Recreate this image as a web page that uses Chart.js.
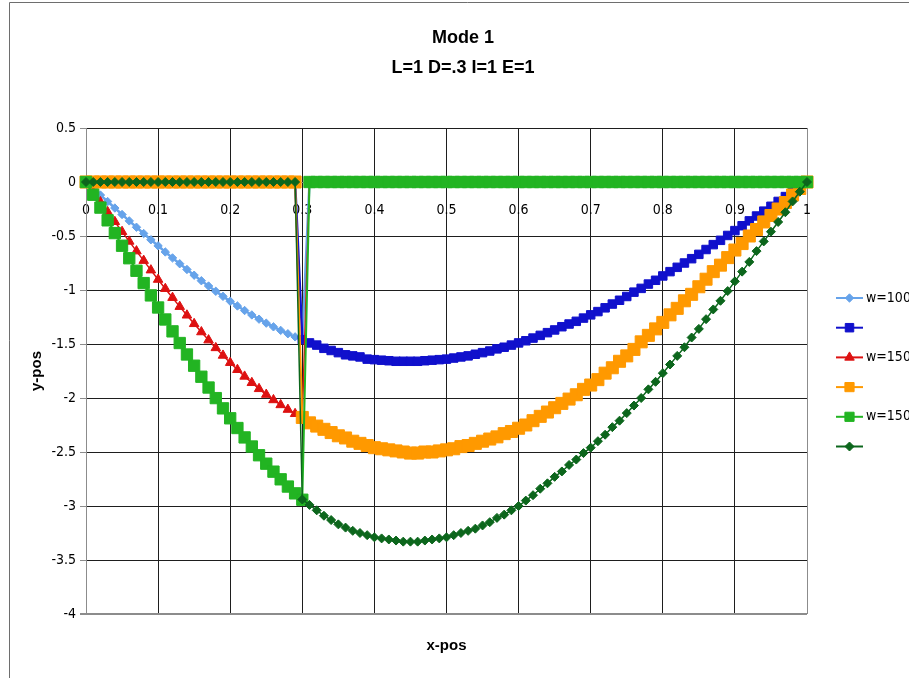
<!DOCTYPE html>
<html>
<head>
<meta charset="utf-8">
<title>Mode 1</title>
<script src="https://cdn.jsdelivr.net/npm/chart.js@4.4.1/dist/chart.umd.min.js"></script>
<style>
    html, body { margin: 0; padding: 0; overflow: hidden; background: #fff; }
    canvas { display: block; }
</style>
</head>
<body>
<canvas id="chart" width="926" height="678"></canvas>
<script>
    /*
        ----------> DATA <----------
    */

    const xPos = [
        0, 0.01, 0.02, 0.03, 0.04, 0.05, 0.06, 0.07, 0.08, 0.09,
        0.1, 0.11, 0.12, 0.13, 0.14, 0.15, 0.16, 0.17, 0.18, 0.19,
        0.2, 0.21, 0.22, 0.23, 0.24, 0.25, 0.26, 0.27, 0.28, 0.29,
        0.3, 0.31, 0.32, 0.33, 0.34, 0.35, 0.36, 0.37, 0.38, 0.39,
        0.4, 0.41, 0.42, 0.43, 0.44, 0.45, 0.46, 0.47, 0.48, 0.49,
        0.5, 0.51, 0.52, 0.53, 0.54, 0.55, 0.56, 0.57, 0.58, 0.59,
        0.6, 0.61, 0.62, 0.63, 0.64, 0.65, 0.66, 0.67, 0.68, 0.69,
        0.7, 0.71, 0.72, 0.73, 0.74, 0.75, 0.76, 0.77, 0.78, 0.79,
        0.8, 0.81, 0.82, 0.83, 0.84, 0.85, 0.86, 0.87, 0.88, 0.89,
        0.9, 0.91, 0.92, 0.93, 0.94, 0.95, 0.96, 0.97, 0.98, 0.99,
        1
    ];

    // w=100, left part (light blue)
    const w100Left = [
        0, -0.060, -0.121, -0.181, -0.241, -0.301, -0.360, -0.419, -0.477, -0.535,
        -0.591, -0.648, -0.703, -0.757, -0.810, -0.863, -0.914, -0.963, -1.012, -1.059,
        -1.104, -1.148, -1.190, -1.231, -1.270, -1.307, -1.341, -1.374, -1.405, -1.434,
        -1.460, 0, 0, 0, 0, 0, 0, 0, 0, 0,
        0, 0, 0, 0, 0, 0, 0, 0, 0, 0,
        0, 0, 0, 0, 0, 0, 0, 0, 0, 0,
        0, 0, 0, 0, 0, 0, 0, 0, 0, 0,
        0, 0, 0, 0, 0, 0, 0, 0, 0, 0,
        0, 0, 0, 0, 0, 0, 0, 0, 0, 0,
        0, 0, 0, 0, 0, 0, 0, 0, 0, 0,
        0
    ];

    // w=100, right part (dark blue)
    const w100Right = [
        0, 0, 0, 0, 0, 0, 0, 0, 0, 0,
        0, 0, 0, 0, 0, 0, 0, 0, 0, 0,
        0, 0, 0, 0, 0, 0, 0, 0, 0, 0,
        -1.46, -1.49, -1.51, -1.54, -1.56, -1.58, -1.60, -1.61, -1.62, -1.64,
        -1.645, -1.65, -1.655, -1.66, -1.66, -1.66, -1.66, -1.655, -1.65, -1.645,
        -1.64, -1.63, -1.62, -1.61, -1.595, -1.58, -1.565, -1.545, -1.53, -1.51,
        -1.49, -1.47, -1.445, -1.42, -1.395, -1.37, -1.34, -1.315, -1.29, -1.26,
        -1.23, -1.20, -1.165, -1.13, -1.095, -1.06, -1.02, -0.985, -0.945, -0.91,
        -0.87, -0.83, -0.79, -0.75, -0.71, -0.67, -0.625, -0.58, -0.54, -0.495,
        -0.45, -0.405, -0.36, -0.315, -0.27, -0.225, -0.18, -0.135, -0.09, -0.045,
        0
    ];

    // w=150, left part (red)
    const w150Left = [
        0, -0.092, -0.185, -0.277, -0.368, -0.460, -0.550, -0.640, -0.728, -0.816,
        -0.903, -0.988, -1.071, -1.154, -1.234, -1.313, -1.389, -1.464, -1.536, -1.606,
        -1.673, -1.738, -1.800, -1.859, -1.915, -1.968, -2.018, -2.064, -2.107, -2.146,
        -2.181, 0, 0, 0, 0, 0, 0, 0, 0, 0,
        0, 0, 0, 0, 0, 0, 0, 0, 0, 0,
        0, 0, 0, 0, 0, 0, 0, 0, 0, 0,
        0, 0, 0, 0, 0, 0, 0, 0, 0, 0,
        0, 0, 0, 0, 0, 0, 0, 0, 0, 0,
        0, 0, 0, 0, 0, 0, 0, 0, 0, 0,
        0, 0, 0, 0, 0, 0, 0, 0, 0, 0,
        0
    ];

    // w=150, right part (orange)
    const w150Right = [
        0, 0, 0, 0, 0, 0, 0, 0, 0, 0,
        0, 0, 0, 0, 0, 0, 0, 0, 0, 0,
        0, 0, 0, 0, 0, 0, 0, 0, 0, 0,
        -2.18, -2.23, -2.26, -2.29, -2.32, -2.35, -2.37, -2.40, -2.42, -2.44,
        -2.46, -2.47, -2.48, -2.49, -2.50, -2.51, -2.51, -2.50, -2.50, -2.49,
        -2.48, -2.47, -2.45, -2.44, -2.42, -2.40, -2.38, -2.36, -2.33, -2.31,
        -2.28, -2.25, -2.21, -2.17, -2.13, -2.09, -2.05, -2.01, -1.97, -1.92,
        -1.88, -1.83, -1.77, -1.72, -1.66, -1.61, -1.55, -1.48, -1.42, -1.36,
        -1.30, -1.23, -1.17, -1.10, -1.04, -0.97, -0.90, -0.83, -0.77, -0.70,
        -0.63, -0.57, -0.50, -0.44, -0.37, -0.31, -0.25, -0.19, -0.12, -0.06,
        0
    ];

    // second w=150, left part (green)
    const w150bLeft = [
        0, -0.118, -0.237, -0.355, -0.473, -0.590, -0.706, -0.822, -0.936, -1.050,
        -1.162, -1.273, -1.383, -1.491, -1.597, -1.701, -1.803, -1.903, -2.001, -2.096,
        -2.188, -2.278, -2.365, -2.449, -2.530, -2.608, -2.682, -2.753, -2.820, -2.883,
        -2.942, 0, 0, 0, 0, 0, 0, 0, 0, 0,
        0, 0, 0, 0, 0, 0, 0, 0, 0, 0,
        0, 0, 0, 0, 0, 0, 0, 0, 0, 0,
        0, 0, 0, 0, 0, 0, 0, 0, 0, 0,
        0, 0, 0, 0, 0, 0, 0, 0, 0, 0,
        0, 0, 0, 0, 0, 0, 0, 0, 0, 0,
        0, 0, 0, 0, 0, 0, 0, 0, 0, 0,
        0
    ];

    // second w=150, right part (dark green)
    const w150bRight = [
        0, 0, 0, 0, 0, 0, 0, 0, 0, 0,
        0, 0, 0, 0, 0, 0, 0, 0, 0, 0,
        0, 0, 0, 0, 0, 0, 0, 0, 0, 0,
        -2.94, -2.99, -3.04, -3.09, -3.13, -3.17, -3.20, -3.23, -3.25, -3.27,
        -3.29, -3.30, -3.31, -3.32, -3.33, -3.33, -3.33, -3.32, -3.31, -3.30,
        -3.29, -3.27, -3.25, -3.23, -3.21, -3.18, -3.15, -3.11, -3.08, -3.04,
        -3.00, -2.95, -2.90, -2.84, -2.79, -2.73, -2.68, -2.62, -2.57, -2.51,
        -2.46, -2.40, -2.34, -2.27, -2.21, -2.14, -2.07, -2.00, -1.92, -1.85,
        -1.77, -1.69, -1.61, -1.53, -1.44, -1.36, -1.27, -1.18, -1.10, -1.01,
        -0.92, -0.83, -0.74, -0.64, -0.55, -0.46, -0.37, -0.28, -0.18, -0.09,
        0
    ];

    const seriesLabels = ["w=100", "", "w=150", "", "w=150", ""];

    const xTickValues = [0, 0.1, 0.2, 0.3, 0.4, 0.5, 0.6, 0.7, 0.8, 0.9, 1];
    const xTickLabels = ["0", "0.1", "0.2", "0.3", "0.4", "0.5", "0.6", "0.7", "0.8", "0.9", "1"];
    const yTickValues = [-4, -3.5, -3, -2.5, -2, -1.5, -1, -0.5, 0, 0.5];
    const yTickLabels = ["-4", "-3.5", "-3", "-2.5", "-2", "-1.5", "-1", "-0.5", "0", "0.5"];

    const titleLines = ["Mode 1", "L=1 D=.3 I=1 E=1"];

    /*
        ----------> DATASETS <----------
    */

    const boldFamily = "'Liberation Sans', Arial, sans-serif";
    const tickFamily = "'DejaVu Sans Condensed', 'DejaVu Sans', sans-serif";

    function points(values) {
        return xPos.map((x, i) => ({ x, y: values[i] }));
    }

    function series(index, values, color, pointStyle, pointRadius, borderWidth) {
        return {
            label: seriesLabels[index],
            data: points(values),
            borderColor: color,
            backgroundColor: color,
            pointBackgroundColor: color,
            pointBorderColor: color,
            pointStyle,
            pointRadius,
            pointHoverRadius: pointRadius,
            pointBorderWidth: 1,
            borderWidth,
            showLine: true,
            tension: 0,
            clip: false,
            // later series are drawn on top, as in the original
            order: 6 - index,
        };
    }

    const datasets = [
        series(0, w100Left, "#66a3ea", "rectRot", 4.2, 2.5),
        series(1, w100Right, "#1010cc", "rect", 6, 2.5),
        series(2, w150Left, "#dd1111", "triangle", 5.5, 1.5),
        series(3, w150Right, "#ff9900", "rect", 8.5, 2),
        series(4, w150bLeft, "#22b422", "rect", 8, 2),
        series(5, w150bRight, "#0c661c", "rectRot", 4.5, 1.5),
    ];

    /* -----> PLUGINS <----- */

    const frame = {
        id: "frame",
        beforeDraw(chart) {
            const ctx = chart.ctx;
            ctx.save();
            ctx.strokeStyle = "#6e6e6e";
            ctx.lineWidth = 1;
            ctx.beginPath();
            ctx.moveTo(9.5, chart.height);
            ctx.lineTo(9.5, 2.5);
            ctx.lineTo(chart.width, 2.5);
            ctx.stroke();
            ctx.restore();
        }
    };

    const sideLegend = {
        id: "sideLegend",
        afterDraw(chart) {
            const ctx = chart.ctx;
            ctx.save();
            chart.data.datasets.forEach((ds, i) => {
                const y = 298 + i * 29.7;

                ctx.strokeStyle = ds.borderColor;
                ctx.lineWidth = 2;
                ctx.beginPath();
                ctx.moveTo(836, y);
                ctx.lineTo(863, y);
                ctx.stroke();

                ctx.fillStyle = ds.pointBackgroundColor;
                ctx.strokeStyle = ds.pointBorderColor;
                ctx.lineWidth = 1;
                Chart.helpers.drawPoint(ctx, {
                    pointStyle: ds.pointStyle,
                    radius: Math.min(ds.pointRadius, 6.5),
                    rotation: 0,
                    borderWidth: 1,
                }, 849.5, y);

                ctx.fillStyle = "#000";
                ctx.font = "14px " + tickFamily;
                ctx.textBaseline = "middle";
                ctx.textAlign = "left";
                ctx.fillText(ds.label, 866, y);
            });
            ctx.restore();
        }
    };

    /*
        ----------> CHART <----------
    */

    new Chart(document.getElementById("chart"), {
        type: "scatter",
        data: { datasets },
        plugins: [frame, sideLegend],
        options: {
            responsive: false,
            animation: false,
            devicePixelRatio: 1,
            layout: { padding: 0 },
            plugins: {
                legend: { display: false },
                tooltip: { enabled: false },
                title: {
                    display: true,
                    text: titleLines,
                    color: "#000",
                    font: { family: boldFamily, size: 18, weight: "bold", lineHeight: "30px" },
                    padding: { top: 23, bottom: 45 },
                },
                subtitle: {
                    display: true,
                    position: "bottom",
                    fullSize: false,
                    text: "x-pos",
                    color: "#000",
                    font: { family: boldFamily, size: 15, weight: "bold", lineHeight: "18px" },
                    padding: { top: 23, bottom: 23 },
                },
            },
            scales: {
                x: {
                    type: "linear",
                    min: 0,
                    max: 1,
                    position: { y: 0 },
                    afterBuildTicks: scale => {
                        scale.ticks = xTickValues.map(value => ({ value }));
                    },
                    ticks: {
                        callback: (value, index) => xTickLabels[index],
                        autoSkip: false,
                        maxRotation: 0,
                        padding: 20,
                        color: "#000",
                        font: { family: tickFamily, size: 14 },
                    },
                    grid: {
                        color: ctx => {
                            if (ctx.tick.value === 0) return "rgba(0,0,0,0)";
                            if (ctx.tick.value === 1) return "#8c8c8c";
                            return "#1e1e1e";
                        },
                        lineWidth: 1,
                        drawTicks: false,
                    },
                    border: { display: true, color: "#8c8c8c" },
                },
                y: {
                    type: "linear",
                    min: -4,
                    max: 0.5,
                    afterBuildTicks: scale => {
                        scale.ticks = yTickValues.map(value => ({ value }));
                    },
                    afterFit: scale => {
                        scale.width = 86;
                    },
                    ticks: {
                        callback: (value, index) => yTickLabels[index],
                        autoSkip: false,
                        padding: 4,
                        color: "#000",
                        font: { family: tickFamily, size: 14 },
                    },
                    grid: {
                        color: ctx => ctx.tick.value === -4 ? "#8c8c8c" : "#1e1e1e",
                        lineWidth: ctx => ctx.tick.value === -4 ? 2 : 1,
                        tickLength: 6,
                        tickColor: "#8c8c8c",
                    },
                    border: { color: "#8c8c8c", width: 1 },
                    title: {
                        display: true,
                        text: "y-pos",
                        color: "#000",
                        font: { family: boldFamily, size: 15, weight: "bold", lineHeight: "18px" },
                        padding: { top: 28, bottom: 0 },
                    },
                },
                // empty right-hand box that leaves room for the legend
                legendSpace: {
                    type: "linear",
                    position: "right",
                    display: true,
                    min: 0,
                    max: 1,
                    afterFit: scale => {
                        scale.width = 119;
                    },
                    ticks: { display: false },
                    grid: { display: false },
                    border: { display: false },
                },
            },
        },
    });
</script>
</body>
</html>
